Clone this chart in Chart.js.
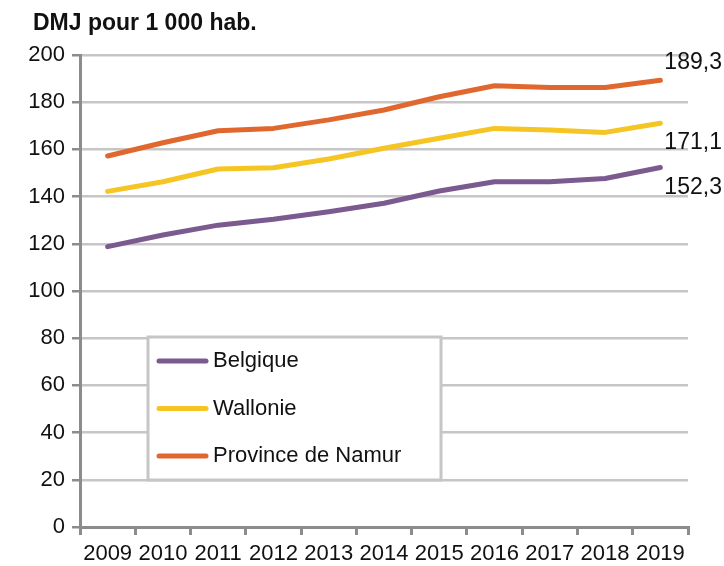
<!DOCTYPE html>
<html>
<head>
<meta charset="utf-8">
<script src="https://cdn.jsdelivr.net/npm/chart.js@4/dist/chart.umd.min.js"></script>
<style>
  html, body { margin: 0; padding: 0; background: #fff; }
  #wrap { width: 724px; height: 566px; }
</style>
</head>
<body>
<div id="wrap"><canvas id="chart"></canvas></div>
<script>
// Years and series
const years = ['2009', '2010', '2011', '2012', '2013', '2014', '2015', '2016', '2017', '2018', '2019'];
const belgique = [118.8, 123.7, 127.9, 130.4, 133.6, 137.2, 142.4, 146.3, 146.3, 147.7, 152.3];
const wallonie = [142.2, 146.3, 151.7, 152.2, 155.9, 160.5, 164.7, 168.9, 168.2, 167.2, 171.1];
const namur = [157.2, 162.8, 167.9, 168.9, 172.5, 176.7, 182.3, 187.0, 186.2, 186.2, 189.3];

const seriesNames = ['Belgique', 'Wallonie', 'Province de Namur'];
const seriesColors = ['#7b5a8f', '#f5c523', '#e0682f'];
const endLabels = ['152,3', '171,1', '189,3'];
const yTicks = [0, 20, 40, 60, 80, 100, 120, 140, 160, 180, 200];

const titleText = 'DMJ pour 1 000 hab.';
const FONT = "'Liberation Sans', Arial, sans-serif";
const axisGray = '#8c8c8c';
const gridGray = '#c6c6c6';

// Title, boxed legend and value labels at the end of each line
const decorations = {
  id: 'decorations',
  afterDatasetsDraw(chart) {
    const ctx = chart.ctx;
    ctx.save();

    ctx.fillStyle = '#111';
    ctx.font = 'bold 23px ' + FONT;
    ctx.textBaseline = 'middle';
    ctx.textAlign = 'left';
    ctx.fillText(titleText, 33, 24);

    // values at the last point
    ctx.font = '23px ' + FONT;
    const offsets = [20, 19, -18];
    chart.data.datasets.forEach((ds, i) => {
      const meta = chart.getDatasetMeta(i);
      const pt = meta.data[meta.data.length - 1];
      ctx.fillText(endLabels[i], pt.x + 4, pt.y + offsets[i]);
    });

    // legend box
    const bx = 148, by = 337, bw = 293, bh = 143;
    ctx.fillStyle = '#fff';
    ctx.fillRect(bx, by, bw, bh);
    ctx.strokeStyle = gridGray;
    ctx.lineWidth = 3;
    ctx.strokeRect(bx, by, bw, bh);

    ctx.font = '22px ' + FONT;
    ctx.lineCap = 'round';
    chart.data.datasets.forEach((ds, i) => {
      const y = 361 + i * 47.5;
      ctx.strokeStyle = ds.borderColor;
      ctx.lineWidth = 5;
      ctx.beginPath();
      ctx.moveTo(159, y);
      ctx.lineTo(206, y);
      ctx.stroke();
      ctx.fillStyle = '#111';
      ctx.fillText(ds.label, 213, y);
    });

    ctx.restore();
  }
};

const datasets = [belgique, wallonie, namur].map((values, i) => ({
  label: seriesNames[i],
  data: values,
  borderColor: seriesColors[i],
  backgroundColor: seriesColors[i],
  borderWidth: 5,
  borderCapStyle: 'round',
  borderJoinStyle: 'round',
  pointRadius: 0,
  tension: 0,
  fill: false
}));

new Chart(document.getElementById('chart'), {
  type: 'line',
  data: { labels: years, datasets: datasets },
  options: {
    responsive: true,
    maintainAspectRatio: false,
    animation: false,
    layout: { padding: { top: 55, right: 36, left: 0, bottom: 0 } },
    plugins: {
      legend: { display: false },
      title: { display: false },
      tooltip: { enabled: false }
    },
    scales: {
      x: {
        offset: true,
        grid: {
          offset: true,
          drawOnChartArea: false,
          tickLength: 8,
          tickColor: axisGray,
          color: axisGray,
          lineWidth: 3
        },
        border: { color: axisGray, width: 3 },
        ticks: {
          color: '#111',
          font: { family: FONT, size: 22 },
          padding: 6,
          maxRotation: 0,
          autoSkip: false
        },
        afterFit(scale) { scale.height = 39; }
      },
      y: {
        min: 0,
        max: 200,
        afterBuildTicks(scale) { scale.ticks = yTicks.map(v => ({ value: v })); },
        grid: {
          color: gridGray,
          lineWidth: 2.5,
          tickLength: 8,
          tickColor: axisGray
        },
        border: { color: axisGray, width: 3 },
        ticks: {
          color: '#111',
          font: { family: FONT, size: 22 },
          padding: 7
        },
        afterFit(scale) { scale.width = 80; }
      }
    }
  },
  plugins: [decorations]
});
</script>
</body>
</html>
